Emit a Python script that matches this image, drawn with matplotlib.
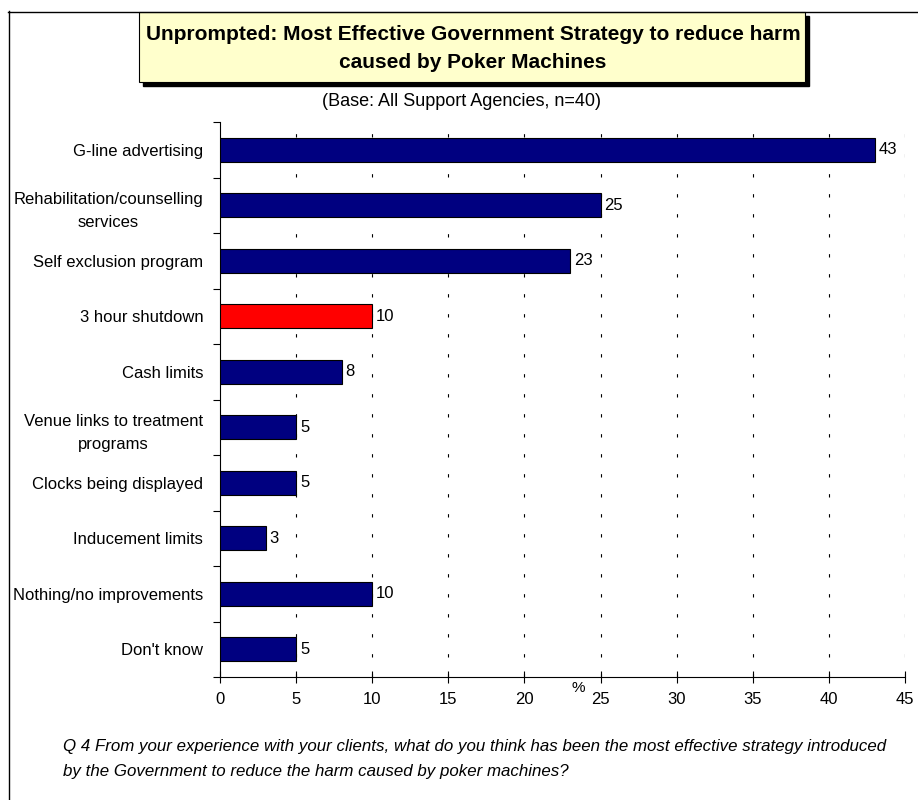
import matplotlib.pyplot as plt
from matplotlib.patches import Rectangle
from matplotlib.lines import Line2D

plt.rcParams['font.family'] = ['Liberation Sans', 'DejaVu Sans']

# Dados
categorias = [
    "G-line advertising",
    "Rehabilitation/counselling\nservices",
    "Self exclusion program",
    "3 hour shutdown",
    "Cash limits",
    "Venue links to treatment\nprograms",
    "Clocks being displayed",
    "Inducement limits",
    "Nothing/no improvements",
    "Don't know",
]
valores = [43, 25, 23, 10, 8, 5, 5, 3, 10, 5]
destaque = "3 hour shutdown"
ticks_x = [0, 5, 10, 15, 20, 25, 30, 35, 40, 45]

AZUL = "#000080"
VERMELHO = "#FF0000"
AMARELO = "#FFFFCC"

W, H = 918, 800
fig = plt.figure(figsize=(W / 100, H / 100), dpi=100)


def fx(px):
    return px / W


def fy(py):
    return 1 - py / H


ax = fig.add_axes([fx(220), fy(677), fx(905) - fx(220), fy(122) - fy(677)])

n = len(categorias)
pos = list(range(n))
cores = [VERMELHO if c == destaque else AZUL for c in categorias]
ax.barh(pos, valores, height=0.43, color=cores, edgecolor="black", linewidth=0.8, zorder=3)
ax.set_ylim(n - 0.5, -0.5)
ax.set_xlim(0, 45)

for p, v in zip(pos, valores):
    ax.text(v + 0.25, p, f"{v}", ha="left", va="center", fontsize=12, zorder=4)

# eixo y: rotulos sem tick, ticks nas divisoes
ax.set_yticks(pos)
ax.set_yticklabels(categorias, fontsize=12, multialignment="center", linespacing=1.65)
ax.tick_params(axis="y", which="major", length=0, pad=12)
ax.set_yticks([p - 0.5 for p in range(n + 1)], minor=True)
ax.tick_params(axis="y", which="minor", length=5, direction="out", width=0.8)

ax.set_xticks(ticks_x)
ax.set_xticklabels([str(t) for t in ticks_x], fontsize=12)
ax.tick_params(axis="x", direction="inout", length=9, width=0.8, pad=6)

for s in ["top", "right"]:
    ax.spines[s].set_visible(False)
for s in ["left", "bottom"]:
    ax.spines[s].set_linewidth(0.8)

for t in ticks_x[1:]:
    ax.axvline(t, color="black", linewidth=0.8, linestyle=(0, (3, 15)), zorder=1)

ax.text(23.55, n - 0.5 + 0.2, "%", ha="center", va="center", fontsize=11, clip_on=False)

# moldura externa
fig.add_artist(Line2D([fx(8.5), fx(8.5)], [fy(11), 0], color="black", linewidth=1))
fig.add_artist(Line2D([fx(8), 1], [fy(11.5), fy(11.5)], color="black", linewidth=1))

# caixa do titulo com sombra
fig.add_artist(Rectangle((fx(143), fy(86)), fx(805) - fx(139), fy(12) - fy(82),
                         transform=fig.transFigure, facecolor="black", edgecolor="black"))
fig.add_artist(Rectangle((fx(139), fy(82)), fx(805) - fx(139), fy(12) - fy(82),
                         transform=fig.transFigure, facecolor=AMARELO, edgecolor="black",
                         linewidth=0.8))
fig.text(fx(473), fy(48), "Unprompted: Most Effective Government Strategy to reduce harm\n"
         "caused by Poker Machines", ha="center", va="center", fontsize=15,
         fontweight="bold", linespacing=1.6)

fig.text(fx(461), fy(102), "(Base: All Support Agencies, n=40)", ha="center", va="center",
         fontsize=13)

fig.text(fx(63), fy(759), "Q 4 From your experience with your clients, what do you think has been "
         "the most effective strategy introduced\nby the Government to reduce the harm caused "
         "by poker machines?", ha="left", va="center", fontsize=12.2, style="italic",
         linespacing=1.8)

fig.savefig("out.png", dpi=100, facecolor="white")
